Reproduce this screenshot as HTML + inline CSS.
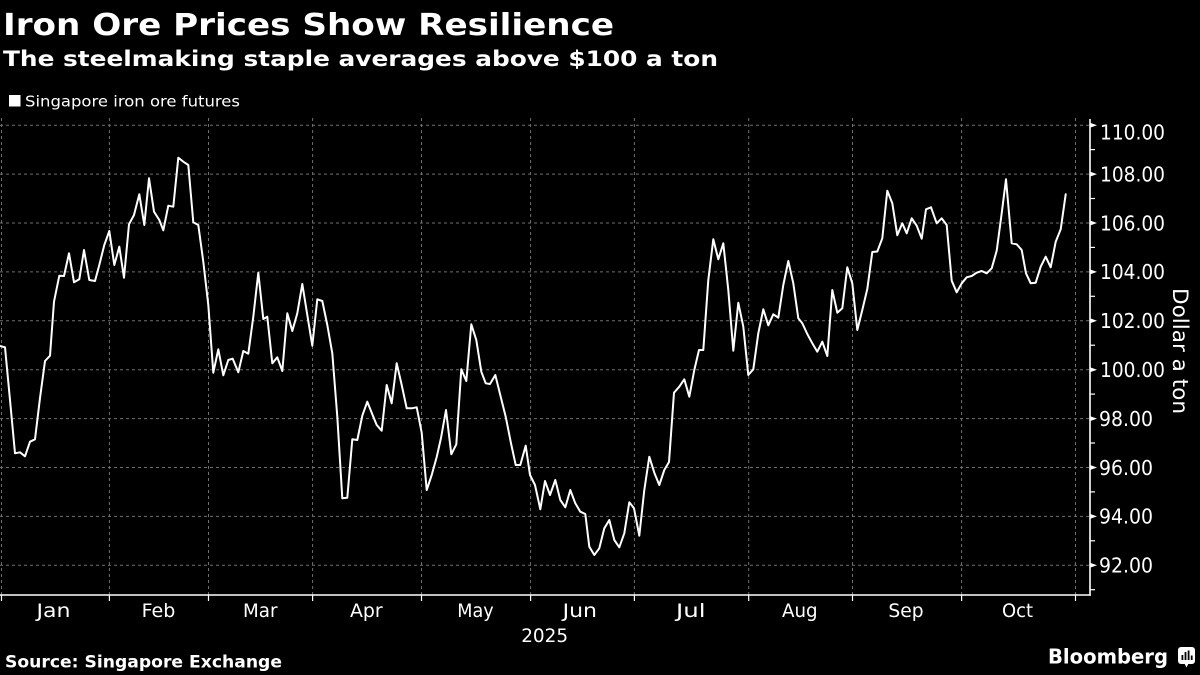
<!DOCTYPE html>
<html>
<head>
<meta charset="utf-8">
<style>
html,body{margin:0;padding:0;background:#000;}
svg{display:block;}
</style>
</head>
<body>
<svg width="1200" height="675" viewBox="0 0 1200 675" xmlns="http://www.w3.org/2000/svg">
<rect x="0" y="0" width="1200" height="675" fill="#000"/>

<!-- Title / subtitle -->
<text x="3" y="35" font-family="DejaVu Sans, Liberation Sans, sans-serif" font-weight="bold" font-size="30" fill="#fff" textLength="611" lengthAdjust="spacingAndGlyphs">Iron Ore Prices Show Resilience</text>
<text x="3" y="66" font-family="DejaVu Sans, Liberation Sans, sans-serif" font-weight="bold" font-size="21.5" fill="#fff" textLength="715" lengthAdjust="spacingAndGlyphs">The steelmaking staple averages above $100 a ton</text>

<!-- Legend -->
<rect x="9" y="95" width="11.5" height="11.5" fill="#fff"/>
<text x="25" y="106.5" font-family="DejaVu Sans, Liberation Sans, sans-serif" font-size="15.5" fill="#fff" textLength="215" lengthAdjust="spacingAndGlyphs">Singapore iron ore futures</text>

<!-- Grid lines -->
<g stroke="#707070" stroke-width="1" stroke-dasharray="3,3" fill="none">
  <line x1="0" y1="125.2" x2="1090" y2="125.2"/>
  <line x1="0" y1="174.1" x2="1090" y2="174.1"/>
  <line x1="0" y1="223.0" x2="1090" y2="223.0"/>
  <line x1="0" y1="271.9" x2="1090" y2="271.9"/>
  <line x1="0" y1="320.8" x2="1090" y2="320.8"/>
  <line x1="0" y1="369.7" x2="1090" y2="369.7"/>
  <line x1="0" y1="418.6" x2="1090" y2="418.6"/>
  <line x1="0" y1="467.5" x2="1090" y2="467.5"/>
  <line x1="0" y1="516.4" x2="1090" y2="516.4"/>
  <line x1="0" y1="565.3" x2="1090" y2="565.3"/>

  <line x1="1.5" y1="118" x2="1.5" y2="595"/>
  <line x1="109.4" y1="118" x2="109.4" y2="595"/>
  <line x1="208.5" y1="118" x2="208.5" y2="595"/>
  <line x1="312.6" y1="118" x2="312.6" y2="595"/>
  <line x1="421.5" y1="118" x2="421.5" y2="595"/>
  <line x1="530.6" y1="118" x2="530.6" y2="595"/>
  <line x1="634.4" y1="118" x2="634.4" y2="595"/>
  <line x1="748.7" y1="118" x2="748.7" y2="595"/>
  <line x1="852.5" y1="118" x2="852.5" y2="595"/>
  <line x1="961.6" y1="118" x2="961.6" y2="595"/>
  <line x1="1075.5" y1="118" x2="1075.5" y2="595"/>
</g>

<!-- Axes -->
<g stroke="#fff" stroke-width="1.6" fill="none">
  <line x1="0" y1="595" x2="1090.8" y2="595"/>
  <line x1="1090" y1="119" x2="1090" y2="595.8"/>
</g>
<!-- X ticks -->
<g stroke="#fff" stroke-width="1.2">
  <line x1="1.5" y1="595" x2="1.5" y2="601"/>
  <line x1="109.4" y1="595" x2="109.4" y2="601"/>
  <line x1="208.5" y1="595" x2="208.5" y2="601"/>
  <line x1="312.6" y1="595" x2="312.6" y2="601"/>
  <line x1="421.5" y1="595" x2="421.5" y2="601"/>
  <line x1="530.6" y1="595" x2="530.6" y2="601"/>
  <line x1="634.4" y1="595" x2="634.4" y2="601"/>
  <line x1="748.7" y1="595" x2="748.7" y2="601"/>
  <line x1="852.5" y1="595" x2="852.5" y2="601"/>
  <line x1="961.6" y1="595" x2="961.6" y2="601"/>
  <line x1="1075.5" y1="595" x2="1075.5" y2="601"/>
</g>
<!-- Y ticks: minor -->
<g stroke="#fff" stroke-width="1.2">
  <line x1="1090" y1="149.6" x2="1095" y2="149.6"/>
  <line x1="1090" y1="198.5" x2="1095" y2="198.5"/>
  <line x1="1090" y1="247.4" x2="1095" y2="247.4"/>
  <line x1="1090" y1="296.3" x2="1095" y2="296.3"/>
  <line x1="1090" y1="345.2" x2="1095" y2="345.2"/>
  <line x1="1090" y1="394.1" x2="1095" y2="394.1"/>
  <line x1="1090" y1="443.0" x2="1095" y2="443.0"/>
  <line x1="1090" y1="491.9" x2="1095" y2="491.9"/>
  <line x1="1090" y1="540.8" x2="1095" y2="540.8"/>
  <line x1="1090" y1="589.7" x2="1095" y2="589.7"/>
</g>
<!-- Y ticks: major (small arrow shape) -->
<g fill="#fff">
  <polygon points="1090,122.7 1097,125.2 1090,127.7"/>
  <polygon points="1090,171.6 1097,174.1 1090,176.6"/>
  <polygon points="1090,220.5 1097,223.0 1090,225.5"/>
  <polygon points="1090,269.4 1097,271.9 1090,274.4"/>
  <polygon points="1090,318.3 1097,320.8 1090,323.3"/>
  <polygon points="1090,367.2 1097,369.7 1090,372.2"/>
  <polygon points="1090,416.1 1097,418.6 1090,421.1"/>
  <polygon points="1090,465.0 1097,467.5 1090,470.0"/>
  <polygon points="1090,513.9 1097,516.4 1090,518.9"/>
  <polygon points="1090,562.8 1097,565.3 1090,567.8"/>
</g>

<!-- Y labels -->
<g font-family="DejaVu Sans, Liberation Sans, sans-serif" font-size="20" fill="#fff">
  <text x="1100" y="139.5" textLength="65" lengthAdjust="spacingAndGlyphs">110.00</text>
  <text x="1100" y="181.4" textLength="65" lengthAdjust="spacingAndGlyphs">108.00</text>
  <text x="1100" y="230.3" textLength="65" lengthAdjust="spacingAndGlyphs">106.00</text>
  <text x="1100" y="279.2" textLength="65" lengthAdjust="spacingAndGlyphs">104.00</text>
  <text x="1100" y="328.1" textLength="65" lengthAdjust="spacingAndGlyphs">102.00</text>
  <text x="1100" y="377.0" textLength="65" lengthAdjust="spacingAndGlyphs">100.00</text>
  <text x="1099" y="425.9" textLength="54" lengthAdjust="spacingAndGlyphs">98.00</text>
  <text x="1099" y="474.8" textLength="54" lengthAdjust="spacingAndGlyphs">96.00</text>
  <text x="1099" y="523.7" textLength="54" lengthAdjust="spacingAndGlyphs">94.00</text>
  <text x="1099" y="572.6" textLength="54" lengthAdjust="spacingAndGlyphs">92.00</text>
</g>

<!-- Y axis title -->
<text transform="translate(1173,351) rotate(90)" x="0" y="0" text-anchor="middle" font-family="DejaVu Sans, Liberation Sans, sans-serif" font-size="21.5" fill="#fff" textLength="126" lengthAdjust="spacingAndGlyphs">Dollar a ton</text>

<!-- X labels -->
<g font-family="DejaVu Sans, Liberation Sans, sans-serif" font-size="19" fill="#fff">
  <text x="36.5" y="617" textLength="34" lengthAdjust="spacingAndGlyphs">Jan</text>
  <text x="141.6" y="617" textLength="33.7" lengthAdjust="spacingAndGlyphs">Feb</text>
  <text x="243" y="617" textLength="34.5" lengthAdjust="spacingAndGlyphs">Mar</text>
  <text x="350" y="617" textLength="32.7" lengthAdjust="spacingAndGlyphs">Apr</text>
  <text x="457.3" y="617" textLength="36.4" lengthAdjust="spacingAndGlyphs">May</text>
  <text x="562.6" y="617" textLength="34.4" lengthAdjust="spacingAndGlyphs">Jun</text>
  <text x="676" y="617" textLength="29.5" lengthAdjust="spacingAndGlyphs">Jul</text>
  <text x="782" y="617" textLength="35.6" lengthAdjust="spacingAndGlyphs">Aug</text>
  <text x="888.4" y="617" textLength="35.2" lengthAdjust="spacingAndGlyphs">Sep</text>
  <text x="1002" y="617" textLength="31" lengthAdjust="spacingAndGlyphs">Oct</text>
  <text x="521.2" y="642" textLength="47" lengthAdjust="spacingAndGlyphs">2025</text>
</g>

<!-- Data series -->
<polyline fill="none" stroke="#fff" stroke-width="2" stroke-linejoin="round" stroke-linecap="round" points="
0,346 5,347.3 10,400 15,453.3 20,452.3 25,456.3 30,441.7 35,439.3 40,398 45,361 50,355.7 54,301.7 59.3,275.7 64,276 69,253.3 74,282.3 79.3,279.3 84,250 89.3,280 95,281 99.3,265 104.3,245 109.3,231 114.3,265 119.3,246.7 124,277.7 129,224.3 134,215 139.3,194.3 144.3,225 149,178.3 154,211.7 159.3,220 163.3,230.3 168.3,205.7 173.3,206.7 178.3,157.7 183.3,161.7 188.3,165 193.3,222.3 198.3,225 203.3,261.7 208.3,305 213.3,372.7 218.3,349.3
223.3,375.3 228.3,360 232.7,358.7 238.3,372.3 243.3,351 248.3,353.7 253.3,316.7 258.3,272.7 263.3,319 267.3,316.7 272.3,363.3 277.3,357.3 282.3,371 287.3,313.3 292.3,331 297.3,313.3 302.3,284 307.3,315 312.3,345.7 317.3,299.3 322.3,301 327.3,325 332.3,353.3 337.3,416.7 342.3,498.3 347.3,497.7 352.3,439.3 357.3,440 362.3,415.7 367.3,401.7 372.3,414.3 376.7,425 381.7,430.7 386.7,385 391.7,403.3 396.7,363.3 401.7,385 406.7,408.3 411.7,408.3 416.7,407.3 421.7,432.7 426.7,490 431.7,475
436.7,457 441,438 446,410 451.3,454.3 456.3,444.3 461.3,369.3 466.3,381 471.3,324.3 476.3,340 481.3,371.7 485.7,383.3 490,384 495.3,375 500.7,396.7 505.7,416.7 511,443.3 515.7,465 520.3,465 525.7,445.7 530,475 535,485 540.3,509.3 545,481 550,495 555.3,480 560.3,500 565.3,507.3 570.3,490 575.3,503.3 580.3,511.7 585.3,514 589.3,546.7 594.3,555 599.3,548.3 604.3,528.3 609.3,520 614.3,540 619.3,547.3 624.3,533.3 629.3,502.3 634,508.3 639.3,535.7 644.3,490 649.3,456.7 654.3,472.7 659.3,485 664.3,470 669,462
674,392.7 679.3,386.7 684.3,379.3 689.3,396.7 694.3,370 699,350 703.3,350 708.3,280 713.3,239.3 718.3,259.3 723.3,243.3 728.3,290 733.3,350.7 738.3,302.7 743.3,326.7 748.3,375 753.3,369.3 758.3,333.3 763.3,309.3 768.3,325.3 773.3,314.3 778.3,317.7 783.3,285 788.3,261 793.3,283.3 798.3,318.3 802.3,323.3 807.3,334 812.3,343.3 817.3,351.7 822.3,341.7 827.3,356 832.3,290 837.3,312.7 842.3,308.3 847.3,267.3 852.3,283.3 857.3,330 862.3,310 867.3,289
872.3,252 877.3,251.5 882.3,238.3 887.3,190.7 892.3,203.3 897.3,235.3 902.3,223.3 906.7,233.3 911.7,218.3 916.7,225.7 921.7,238.7 926,209.3 931,207.3 936.7,223.3 941.7,218.3 946.7,225 951.7,280.7 956.7,292.3 961.7,283.3 966.7,277.3 971.7,276 976.7,272.7 981.7,271 986.7,273.3 991.7,268.3 996.7,250.7 1001.7,213.3 1006,179.3 1011.7,243.3 1016.7,244.3 1021.7,250 1026,273.3 1030.7,283.3 1035.7,282.7 1040.7,266.7 1045.7,256.7 1050.7,267.3 1055.7,241.7 1060.7,229.3 1065.7,194.3"/>

<!-- Footer -->
<text x="5" y="667.5" font-family="DejaVu Sans, Liberation Sans, sans-serif" font-weight="bold" font-size="16.5" fill="#fff" textLength="277" lengthAdjust="spacingAndGlyphs">Source: Singapore Exchange</text>
<text x="1048" y="663.5" font-family="DejaVu Sans, Liberation Sans, sans-serif" font-weight="bold" font-size="20" fill="#fff" textLength="120" lengthAdjust="spacingAndGlyphs">Bloomberg</text>

<!-- Bloomberg logo -->
<rect x="1178" y="647" width="17" height="17" rx="3" ry="3" fill="#fff"/>
<polygon points="1184.5,663.5 1188.5,663.5 1186.5,667.5" fill="#fff"/>
<g fill="#000">
  <rect x="1181.5" y="655" width="1.8" height="5"/>
  <rect x="1184.6" y="652" width="1.8" height="8"/>
  <rect x="1187.7" y="650.5" width="1.8" height="9.5"/>
  <rect x="1190.8" y="655.5" width="1.8" height="4.5"/>
</g>
</svg>
</body>
</html>
